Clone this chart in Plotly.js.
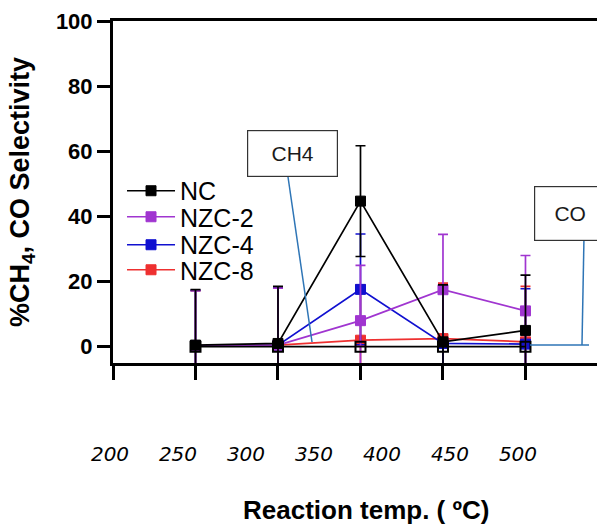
<!DOCTYPE html>
<html>
<head>
<meta charset="utf-8">
<script src="https://cdn.plot.ly/plotly-3.0.1.min.js"></script>
<style>html,body{margin:0;padding:0;background:#fff;}#chart{width:597px;height:524px;}</style>
</head>
<body>
<div id="chart"></div>
<script>
// ---- data ----
const xIndex = [1, 2, 3, 4, 5];
const tempLabels = [200, 250, 300, 350, 400, 450, 500];
const seriesNames = ["NC", "NZC-2", "NZC-4", "NZC-8"];
const ncCH4 = [0.5, 1.0, 44.7, 1.5, 5.0];
const ncErr = [17, 17.5, 17, 17.5, 17];
const nzc2CH4 = [0.2, 0.5, 8.0, 17.5, 11.0];
const nzc2Err = [17, 17.5, 17, 17, 17];
const nzc4CH4 = [0.3, 0.5, 17.6, 1.0, 0.8];
const nzc4Err = [17, 17.5, 17, 17.5, 17];
const nzc8CH4 = [0.2, 0.5, 2.0, 2.5, 1.5];
const nzc8Err = [17, 17.5, 17, 17, 17];
const coSel = [0, 0, 0, 0, 0];
const yTicks = [0, 20, 40, 60, 80, 100];

const colors = {NC: "#000000", "NZC-2": "#A035D0", "NZC-4": "#1010D0", "NZC-8": "#EE3030"};
const font = "Liberation Sans, Arial, sans-serif";

function series(name, y, err, legendId, rank) {
  const c = colors[name];
  return {
    type: "scatter", mode: "lines+markers", name: name,
    x: xIndex, y: y, xaxis: "x", yaxis: "y",
    line: {color: c, width: 1.7},
    marker: {symbol: "square", size: 10, color: c, line: {color: c, width: 1}},
    error_y: {type: "data", array: err, visible: true, color: c, thickness: 1.7, width: 5},
    legend: legendId, legendrank: rank, hoverinfo: "x+y+name"
  };
}

const traces = [
  series("NZC-8", nzc8CH4, nzc8Err, "legend4", 4),
  series("NZC-4", nzc4CH4, nzc4Err, "legend3", 3),
  series("NZC-2", nzc2CH4, nzc2Err, "legend2", 2),
  series("NC", ncCH4, ncErr, "legend", 1),
  {
    type: "scatter", mode: "lines+markers", name: "CO",
    x: xIndex, y: coSel, xaxis: "x", yaxis: "y",
    line: {color: "#000", width: 1.7},
    marker: {symbol: "square-open", size: 10, color: "#000", line: {color: "#000", width: 2}},
    showlegend: false
  },
  {
    type: "scatter", mode: "markers", x: tempLabels, y: tempLabels.map(() => null),
    xaxis: "x2", yaxis: "y", showlegend: false, hoverinfo: "skip"
  }
];

const legendBase = {
  xanchor: "left", yanchor: "middle", bgcolor: "rgba(0,0,0,0)", borderwidth: 0,
  font: {family: font, size: 25, color: "#000"}, itemwidth: 48
};

const layout = {
  width: 597, height: 524,
  margin: {l: 100, r: 0, t: 21, b: 84, pad: 0},
  paper_bgcolor: "#fff", plot_bgcolor: "rgba(0,0,0,0)",
  showlegend: true,
  xaxis: {
    domain: [0.02616, 1], range: [0, 5.867], anchor: "y",
    tickmode: "array", tickvals: [0, 1, 2, 3, 4, 5], showticklabels: false,
    ticks: "outside", ticklen: 14, tickwidth: 3, tickcolor: "#000",
    showline: true, linewidth: 3, linecolor: "#000", mirror: true,
    showgrid: false, zeroline: false
  },
  xaxis2: {
    domain: [0, 1], range: [192.65, 558.1], anchor: "free", position: 0,
    tickmode: "array", tickvals: tempLabels, ticktext: tempLabels.map(String),
    ticks: "", showline: false, showgrid: false, zeroline: false,
    tickfont: {family: "DejaVu Sans, sans-serif", size: 20, color: "#000", style: "italic"}
  },
  yaxis: {
    domain: [0.18377, 1], range: [-5, 100], anchor: "x",
    tickmode: "array", tickvals: yTicks, ticktext: yTicks.map(String),
    ticks: "outside", ticklen: 13, tickwidth: 3, tickcolor: "#000",
    showline: true, linewidth: 3, linecolor: "#000",
    showgrid: false, zeroline: false,
    tickfont: {family: font, size: 22, color: "#000", weight: "bold"},
    title: {text: "%CH<sub>4</sub>, CO Selectivity", standoff: 19,
            font: {family: font, size: 27, color: "#000", weight: "bold"}}
  },
  legend: Object.assign({}, legendBase, {x: 0.0443, y: 0.5943}),
  legend2: Object.assign({}, legendBase, {x: 0.0443, y: 0.5322}),
  legend3: Object.assign({}, legendBase, {x: 0.0443, y: 0.4654}),
  legend4: Object.assign({}, legendBase, {x: 0.0443, y: 0.4057}),
  annotations: [
    {xref: "paper", yref: "paper", x: 0.5352, y: -0.167, xanchor: "center", yanchor: "middle",
     text: "Reaction temp. ( ºC)", showarrow: false,
     font: {family: font, size: 26, color: "#000", weight: "bold"}},
    {xref: "paper", yref: "paper", x: 0.3873, y: 0.6838, xanchor: "center", yanchor: "middle",
     text: "CH4", showarrow: false, width: 89, height: 45, borderpad: 0,
     bordercolor: "#333", borderwidth: 1.2, bgcolor: "#fff",
     font: {family: font, size: 21, color: "#1a1a1a"}},
    {xref: "paper", yref: "paper", x: 0.8732, y: 0.5394, xanchor: "left", yanchor: "middle",
     text: "CO", showarrow: false, width: 70, height: 53, borderpad: 0,
     bordercolor: "#333", borderwidth: 1.2, bgcolor: "#fff",
     font: {family: font, size: 21, color: "#1a1a1a"}}
  ],
  shapes: [
    {type: "line", xref: "paper", yref: "paper", x0: 0.3783, y0: 0.6277, x1: 0.4266, y1: 0.2339,
     line: {color: "#2E75B6", width: 1.5}},
    {type: "line", xref: "paper", yref: "paper", x0: 0.9738, y0: 0.4821, x1: 0.9698, y1: 0.2267,
     line: {color: "#2E75B6", width: 1.5}},
    {type: "line", xref: "paper", yref: "paper", x0: 0.8652, y0: 0.2267, x1: 0.9839, y1: 0.2267,
     line: {color: "#2E75B6", width: 1.5}}
  ]
};

Plotly.newPlot("chart", traces, layout, {staticPlot: true, displayModeBar: false});
</script>
</body>
</html>
